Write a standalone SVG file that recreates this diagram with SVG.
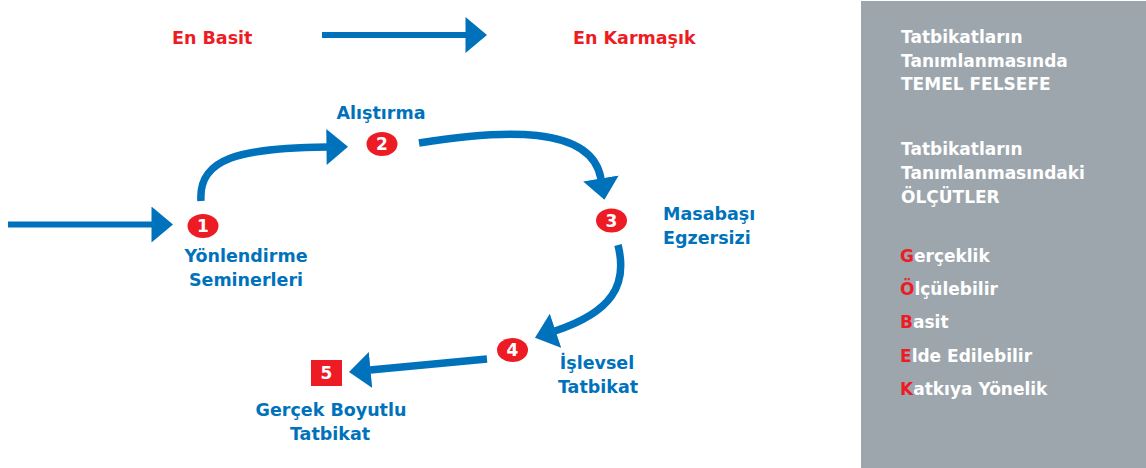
<svg xmlns="http://www.w3.org/2000/svg" width="1146" height="468" viewBox="0 0 1146 468">
<style>
.lbl{font-family:"DejaVu Sans","Liberation Sans",sans-serif;font-weight:bold;font-size:17.5px;fill:#0072bc}
.red{font-family:"DejaVu Sans","Liberation Sans",sans-serif;font-weight:bold;font-size:17.5px;fill:#ed1c24}
.pn{font-family:"DejaVu Sans","Liberation Sans",sans-serif;font-weight:bold;font-size:17px;fill:#ffffff}
.r{fill:#ed1c24}
.badge{fill:#ed1c24}
.num{font-family:"DejaVu Sans","Liberation Sans",sans-serif;font-weight:bold;font-size:17px;fill:#ffffff;text-anchor:middle}
.ln{fill:none;stroke:#0072bc;stroke-width:6}
.cv{fill:none;stroke:#0072bc;stroke-width:7.5}
</style>
<defs>
<marker id="ah" markerUnits="userSpaceOnUse" markerWidth="22" markerHeight="36" viewBox="0 0 21 35" refX="0.5" refY="17.5" orient="auto">
<path d="M0,0 L21,17.5 L0,35 z" fill="#0072bc"/>
</marker>
</defs>
<rect id="panel" x="861" y="1" width="285" height="467" fill="#9da6ad"/>
<g id="legend-top">
<text class="red" x="172" y="44">En Basit</text>
<text class="red" x="573" y="44">En Karmaşık</text>
</g>
<g id="connectors">
<path class="ln" d="M322,35 L466,35" marker-end="url(#ah)"/>
<path class="ln" d="M8,224.5 L152,224.5" marker-end="url(#ah)"/>
<path class="cv" d="M201,201 C198,158 240,148 327,147" marker-end="url(#ah)"/>
<path class="cv" d="M419,143 C500,130 592,124 601,179" marker-end="url(#ah)"/>
<path class="cv" d="M618,245 C628,285 612,312 555,331" marker-end="url(#ah)"/>
<path class="cv" d="M487,359 L370,370" marker-end="url(#ah)"/>
</g>
<g id="node1">
<ellipse class="badge" cx="203" cy="226" rx="15.5" ry="12"/>
<text class="num" x="203" y="232">1</text>
<text class="lbl" x="246" y="262" text-anchor="middle">Yönlendirme</text>
<text class="lbl" x="246" y="286" text-anchor="middle">Seminerleri</text>
</g>
<g id="node2">
<ellipse class="badge" cx="382" cy="144" rx="15.5" ry="12"/>
<text class="num" x="382" y="150">2</text>
<text class="lbl" x="381" y="119" text-anchor="middle">Alıştırma</text>
</g>
<g id="node3">
<ellipse class="badge" cx="611.5" cy="220.5" rx="15.5" ry="12"/>
<text class="num" x="611.5" y="226.5">3</text>
<text class="lbl" x="663" y="220">Masabaşı</text>
<text class="lbl" x="663" y="244">Egzersizi</text>
</g>
<g id="node4">
<ellipse class="badge" cx="512.5" cy="350" rx="15.5" ry="12"/>
<text class="num" x="512.5" y="356">4</text>
<text class="lbl" x="597" y="369" text-anchor="middle">İşlevsel</text>
<text class="lbl" x="598" y="393" text-anchor="middle">Tatbikat</text>
</g>
<g id="node5">
<rect class="badge" x="311" y="360" width="31" height="26"/>
<text class="num" x="326.5" y="379">5</text>
<text class="lbl" x="331" y="416" text-anchor="middle">Gerçek Boyutlu</text>
<text class="lbl" x="330" y="440" text-anchor="middle">Tatbikat</text>
</g>
<g id="panel-text">
<text class="pn" x="901" y="43">Tatbikatların</text>
<text class="pn" x="901" y="67">Tanımlanmasında</text>
<text class="pn" x="901" y="90">TEMEL FELSEFE</text>
<text class="pn" x="901" y="155">Tatbikatların</text>
<text class="pn" x="901" y="179">Tanımlanmasındaki</text>
<text class="pn" x="901" y="203">ÖLÇÜTLER</text>
<text class="pn" x="900" y="262"><tspan class="r">G</tspan>erçeklik</text>
<text class="pn" x="900" y="295"><tspan class="r">Ö</tspan>lçülebilir</text>
<text class="pn" x="900" y="328"><tspan class="r">B</tspan>asit</text>
<text class="pn" x="900" y="362"><tspan class="r">E</tspan>lde Edilebilir</text>
<text class="pn" x="900" y="395"><tspan class="r">K</tspan>atkıya Yönelik</text>
</g>
</svg>
